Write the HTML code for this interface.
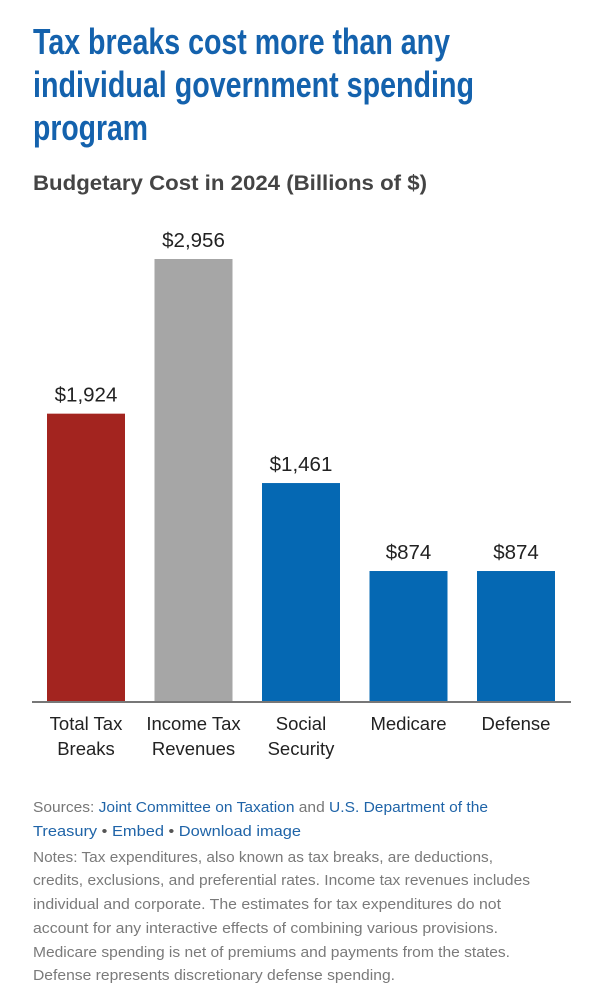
<!DOCTYPE html>
<html><head><meta charset="utf-8"><style>
body{margin:0;background:#fff;}
svg{display:block;font-family:"Liberation Sans",sans-serif;}
</style></head><body>
<svg width="601" height="1000" viewBox="0 0 601 1000">
<g fill="#1462ad" font-weight="bold" font-size="36">
<text x="33" y="54" textLength="417" lengthAdjust="spacingAndGlyphs">Tax breaks cost more than any</text>
<text x="33" y="97" textLength="441" lengthAdjust="spacingAndGlyphs">individual government spending</text>
<text x="33" y="140" textLength="115" lengthAdjust="spacingAndGlyphs">program</text>
</g>
<text x="33" y="190" font-size="21" font-weight="bold" fill="#444" textLength="394" lengthAdjust="spacingAndGlyphs">Budgetary Cost in 2024 (Billions of $)</text>
<g id="bars"></g>
<line x1="32" y1="702" x2="571" y2="702" stroke="#777" stroke-width="2"/>
<g id="cats" font-size="18.5" fill="#222" text-anchor="middle"></g>
<g font-size="15">
<text x="33" y="812" fill="#777" textLength="455" lengthAdjust="spacingAndGlyphs">Sources: <tspan fill="#1f64a8">Joint Committee on Taxation</tspan> and <tspan fill="#1f64a8">U.S. Department of the</tspan></text>
<text x="33" y="836" fill="#1f64a8" textLength="268" lengthAdjust="spacingAndGlyphs"><tspan>Treasury</tspan><tspan fill="#555"> • </tspan><tspan>Embed</tspan><tspan fill="#555">  • </tspan><tspan>Download image</tspan></text>
</g>
<g font-size="15" fill="#7a7a7a">
<text x="33" y="862" textLength="460" lengthAdjust="spacingAndGlyphs">Notes: Tax expenditures, also known as tax breaks, are deductions,</text>
<text x="33" y="885" textLength="497" lengthAdjust="spacingAndGlyphs">credits, exclusions, and preferential rates. Income tax revenues includes</text>
<text x="33" y="909" textLength="468" lengthAdjust="spacingAndGlyphs">individual and corporate. The estimates for tax expenditures do not</text>
<text x="33" y="933" textLength="465" lengthAdjust="spacingAndGlyphs">account for any interactive effects of combining various provisions.</text>
<text x="33" y="957" textLength="477" lengthAdjust="spacingAndGlyphs">Medicare spending is net of premiums and payments from the states.</text>
<text x="33" y="980" textLength="362" lengthAdjust="spacingAndGlyphs">Defense represents discretionary defense spending.</text>
</g>
</svg>
<script>
const categories = [["Total Tax","Breaks"],["Income Tax","Revenues"],["Social","Security"],["Medicare"],["Defense"]];
const values = [1924, 2956, 1461, 874, 874];
const valueLabels = ["$1,924","$2,956","$1,461","$874","$874"];
const colors = ["#a3241f","#a6a6a6","#0568b3","#0568b3","#0568b3"];
const NS="http://www.w3.org/2000/svg";
const baseY=702, scale=443/2956;
function yOf(v){return baseY - v*scale;}
function xOf(i){return 47 + i*107.5;}
const bw=78;
const bars=document.getElementById('bars'), cats=document.getElementById('cats');
values.forEach((v,i)=>{
  const r=document.createElementNS(NS,'rect');
  
  
  r.setAttribute('x',xOf(i)); r.setAttribute('y',yOf(v));
  r.setAttribute('width',bw); r.setAttribute('height',baseY-yOf(v));
  r.setAttribute('fill',colors[i]);
  bars.appendChild(r);
  const t=document.createElementNS(NS,'text');
  
  
  t.setAttribute('x',xOf(i)+bw/2); t.setAttribute('y',yOf(v)-12);
  t.setAttribute('text-anchor','middle'); t.setAttribute('font-size','20.5'); t.setAttribute('fill','#222');
  t.textContent=valueLabels[i];
  bars.appendChild(t);
  categories[i].forEach((line,j)=>{
    const c=document.createElementNS(NS,'text');
    
    
    c.setAttribute('x',xOf(i)+bw/2); c.setAttribute('y',730+j*25);
    c.textContent=line;
    cats.appendChild(c);
  });
});
</script>
</body></html>
